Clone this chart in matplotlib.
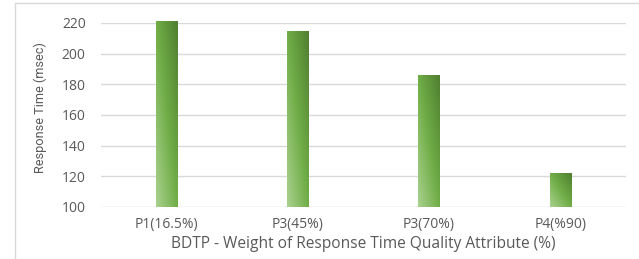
import matplotlib
matplotlib.use("Agg")
import matplotlib.pyplot as plt
import numpy as np
from matplotlib.colors import LinearSegmentedColormap
from matplotlib.patches import Rectangle

categories = ["P1(16.5%)", "P3(45%)", "P3(70%)", "P4(%90)"]
response_time = [221, 215, 186, 122]
y_ticks = [100, 120, 140, 160, 180, 200, 220]

plt.rcParams["font.family"] = ["Open Sans", "DejaVu Sans"]

fig = plt.figure(figsize=(6.39, 2.59), dpi=100)
W, H = 639, 259
ax = fig.add_axes([101 / W, 1 - 207 / H, 525 / W, 184 / H])

# outer chart border
fig.patches.append(Rectangle((15 / W, -0.05), 1.1, 1 - 3 / H + 0.05, transform=fig.transFigure,
                             fill=False, edgecolor="#d9d9d9", linewidth=1))

x = np.arange(len(categories))
bars = ax.bar(x, response_time, width=0.165, color="none", zorder=3)

cmap = LinearSegmentedColormap.from_list("grn", ["#a9d18e", "#70ad47", "#4f7f30"])
grad = np.add.outer(np.linspace(1, 0, 64), np.linspace(0, 1, 32)) / 2
for b in bars:
    x0, w, h = b.get_x(), b.get_width(), b.get_height()
    im = ax.imshow(grad, cmap=cmap, extent=[x0, x0 + w, 100, h], aspect="auto",
                   zorder=3, interpolation="bilinear")
    im.set_clip_path(b)

ax.set_xlim(-0.5, len(categories) - 0.5)
ax.set_ylim(100, 220)
ax.set_yticks(y_ticks)
ax.set_xticks(x)
ax.set_xticklabels(categories)
ax.grid(axis="y", color="#d9d9d9", linewidth=1, zorder=0)
for s in ax.spines.values():
    s.set_visible(False)
ax.tick_params(length=0, labelsize=10, colors="#595959", pad=7)
ax.tick_params(axis="y", pad=11)
ax.set_xlabel("BDTP - Weight of Response Time Quality Attribute (%)", fontsize=11.2,
              color="#595959", labelpad=3)
ax.set_ylabel("Response Time (msec)", fontsize=9.2, color="#595959",
              family=["Liberation Sans Narrow", "Roboto", "DejaVu Sans"])
ax.yaxis.set_label_coords(-0.103, 0.54)

fig.savefig("out.png", dpi=100)
